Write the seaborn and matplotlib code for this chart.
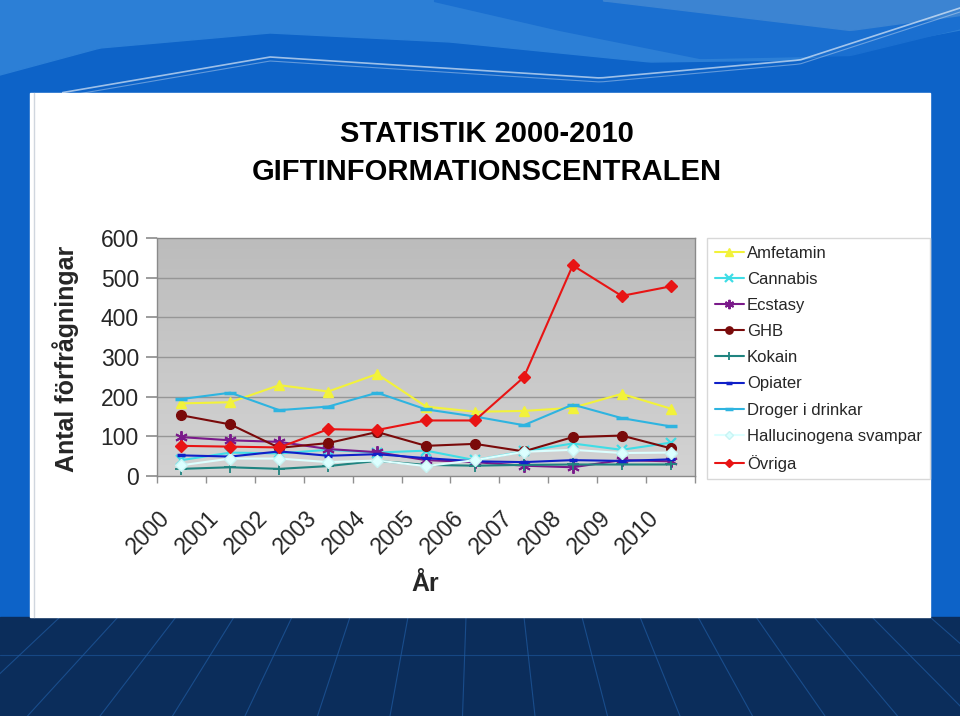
import numpy as np
import pandas as pd
import matplotlib
matplotlib.use('Agg')
import matplotlib.pyplot as plt
import seaborn as sns
from matplotlib.patches import Rectangle
from matplotlib.colors import LinearSegmentedColormap
import matplotlib.transforms as mtrans

# ---------------- data ----------------
years = ['2000', '2001', '2002', '2003', '2004', '2005', '2006', '2007', '2008', '2009', '2010']
amfetamin = [183, 186, 229, 213, 257, 175, 162, 164, 172, 207, 170]
cannabis = [40, 59, 57, 66, 59, 64, 40, 62, 82, 66, 84]
ecstasy = [98, 90, 86, 68, 60, 40, 35, 26, 22, 40, 37]
ghb = [153, 130, 71, 83, 111, 76, 81, 62, 98, 102, 70]
kokain = [18, 22, 18, 25, 38, 28, 26, 28, 29, 29, 29]
opiater = [52, 49, 62, 51, 55, 45, 37, 35, 40, 38, 42]
droger = [194, 210, 166, 175, 210, 168, 150, 128, 180, 146, 125]
hallu = [27, 44, 44, 35, 39, 25, 40, 61, 66, 58, 59]
ovriga = [76, 74, 72, 118, 116, 140, 140, 249, 531, 454, 478]

series_names = ['Amfetamin', 'Cannabis', 'Ecstasy', 'GHB', 'Kokain', 'Opiater',
                'Droger i drinkar', 'Hallucinogena svampar', 'Övriga']
series_values = [amfetamin, cannabis, ecstasy, ghb, kokain, opiater, droger, hallu, ovriga]
y_ticks = [0, 100, 200, 300, 400, 500, 600]

rows = []
for name, vals in zip(series_names, series_values):
    for i, v in enumerate(vals):
        rows.append({'serie': name, 'idx': i, 'value': v})
df = pd.DataFrame(rows)

styles = {
    'Amfetamin': dict(color='#f2f23a', marker='^', markersize=7, mec='#f2f23a', mew=1),
    'Cannabis': dict(color='#3fdde6', marker='x', markersize=7, mec='#3fdde6', mew=1.6),
    'Ecstasy': dict(color='#7a1a8a', marker=(6, 2, 0), markersize=9, mec='#7a1a8a', mew=1.4),
    'GHB': dict(color='#7a0a0a', marker='o', markersize=7, mec='#7a0a0a', mew=1),
    'Kokain': dict(color='#1f8480', marker='+', markersize=8, mec='#1f8480', mew=1.3),
    'Opiater': dict(color='#1020c8', marker='_', markersize=6, mec='#1020c8', mew=2.5),
    'Droger i drinkar': dict(color='#2eb4e0', marker='_', markersize=8, mec='#2eb4e0', mew=2.5),
    'Hallucinogena svampar': dict(color='#dcffff', marker='D', markersize=6, mec='#c8f4f4', mew=1),
    'Övriga': dict(color='#e81414', marker='D', markersize=6, mec='#e81414', mew=1),
}

# ---------------- figure ----------------
sns.set_theme(style='white')
plt.rcParams['font.family'] = ['Liberation Sans', 'DejaVu Sans']

W, H = 960, 716
fig = plt.figure(figsize=(9.6, 7.16), dpi=100)

# background decoration (pixel coordinates)
bg = fig.add_axes([0, 0, 1, 1], zorder=-10)
bg.set_xlim(0, W)
bg.set_ylim(H, 0)
bg.axis('off')
bg.add_patch(Rectangle((0, 0), W, H, color='#0d63c8', zorder=0))
xs = np.linspace(0, W, 200)
top_curve = np.interp(xs, [0, 100, 270, 450, 650, 800, 960], [75, 48, 33, 42, 62, 60, 30])
bg.fill_between(xs, 0, top_curve, color='#2c7fd6', zorder=1)
band = np.interp(xs, [430, 560, 700, 850, 960], [0, 30, 58, 55, 28])
mask = xs >= 430
bg.fill_between(xs[mask], 0, band[mask], color='#1a6fd0', zorder=1.5)
band2 = np.interp(xs, [600, 750, 850, 960], [0, 18, 30, 15])
mask2 = xs >= 600
bg.fill_between(xs[mask2], 0, band2[mask2], color='#3c84d2', zorder=1.6)
wl = np.interp(xs, [60, 270, 600, 800, 960], [93, 57, 78, 60, 8])
m3 = xs >= 60
bg.plot(xs[m3], wl[m3], color='white', alpha=0.6, lw=1.2, zorder=2)
bg.plot(xs[m3], wl[m3] + 4, color='white', alpha=0.35, lw=0.8, zorder=2)
bg.add_patch(Rectangle((0, 617), W, H - 617, color='#0b2d5b', zorder=2))
for x0 in range(60, 960, 58):
    bg.plot([x0, x0 + (x0 - 480) * 0.25], [617, 716], color='#1f5aa0', lw=0.8, alpha=0.7, zorder=2.1)
bg.plot([0, W], [655, 655], color='#1f5aa0', lw=0.8, alpha=0.6, zorder=2.1)
bg.add_patch(Rectangle((30, 93), 900, 524, color='white', zorder=3))
bg.plot([34, 34], [93, 617], color='#d0d6de', lw=1, zorder=3.1)

# title
fig.text(487 / W, 1 - 142 / H, 'STATISTIK 2000-2010', ha='center', va='baseline',
         fontsize=21, fontweight='bold', color='black')
fig.text(487 / W, 1 - 180 / H, 'GIFTINFORMATIONSCENTRALEN', ha='center', va='baseline',
         fontsize=21, fontweight='bold', color='black')

# plot area
ax = fig.add_axes([157 / W, 1 - 476 / H, 538 / W, 238 / H])
grad = np.linspace(0, 1, 256).reshape(-1, 1)
cmap = LinearSegmentedColormap.from_list('g', ['#bcbcbc', '#d3d3d3'])
ax.imshow(grad, extent=(-0.5, 10.5, 0, 600), aspect='auto', cmap=cmap, origin='upper', zorder=0)

for name in series_names:
    sub = df[df['serie'] == name]
    st = styles[name]
    sns.lineplot(data=sub, x='idx', y='value', ax=ax, color=st['color'], linewidth=1.5,
                 marker=st['marker'], markersize=st['markersize'],
                 markeredgecolor=st['mec'], markerfacecolor=st['color'],
                 markeredgewidth=st['mew'], label=name, zorder=4)

ax.set_xlim(-0.5, 10.5)
ax.set_ylim(0, 600)
ax.set_yticks(y_ticks)
ax.set_yticklabels([str(t) for t in y_ticks])
for t in y_ticks[1:-1]:
    ax.axhline(t, color='#969696', lw=1.0, zorder=1)
ax.set_xticks(range(len(years)))
ax.set_xticklabels(years, rotation=45, ha='right', va='top', rotation_mode='anchor', fontsize=16.5)
ax.set_xticks(np.arange(-0.5, 11, 1), minor=True)
ax.tick_params(axis='x', which='major', length=0, pad=22)
ax.tick_params(axis='x', which='minor', length=5, color='#909090', direction='out', bottom=True)
ax.tick_params(axis='y', which='major', length=8, color='#909090', direction='out', labelsize=16.5, pad=5, left=True)
offset = mtrans.ScaledTranslation(-23 / 100, 0, fig.dpi_scale_trans)
for lab in ax.get_xticklabels():
    lab.set_transform(lab.get_transform() + offset)
for s in ax.spines.values():
    s.set_color('#8a8a8a')
    s.set_linewidth(1)

ax.set_xlabel('År', fontsize=18, fontweight='bold')
ax.xaxis.set_label_coords((425 - 157) / 538, (476 - 596) / 238)
ax.xaxis.label.set_va('bottom')
ax.set_ylabel('Antal förfrågningar', fontsize=18, fontweight='bold')
ax.yaxis.set_label_coords((66 - 157) / 538, (476 - 359) / 238)
ax.yaxis.label.set_va('center')

handles, labels = ax.get_legend_handles_labels()
leg = ax.legend(handles, labels, loc='upper left',
                bbox_to_anchor=(707 / W, 1 - 476 / H, (930 - 707) / W, 238 / H),
                bbox_transform=fig.transFigure, mode='expand', fontsize=12,
                frameon=True, fancybox=False, edgecolor='#d8d8d8', facecolor='white',
                framealpha=1, labelspacing=0.67, handlelength=1.75, handletextpad=0.2,
                borderpad=0.45, borderaxespad=0, markerscale=0.75)
leg.get_frame().set_linewidth(1)

fig.savefig('out.png', dpi=100)
